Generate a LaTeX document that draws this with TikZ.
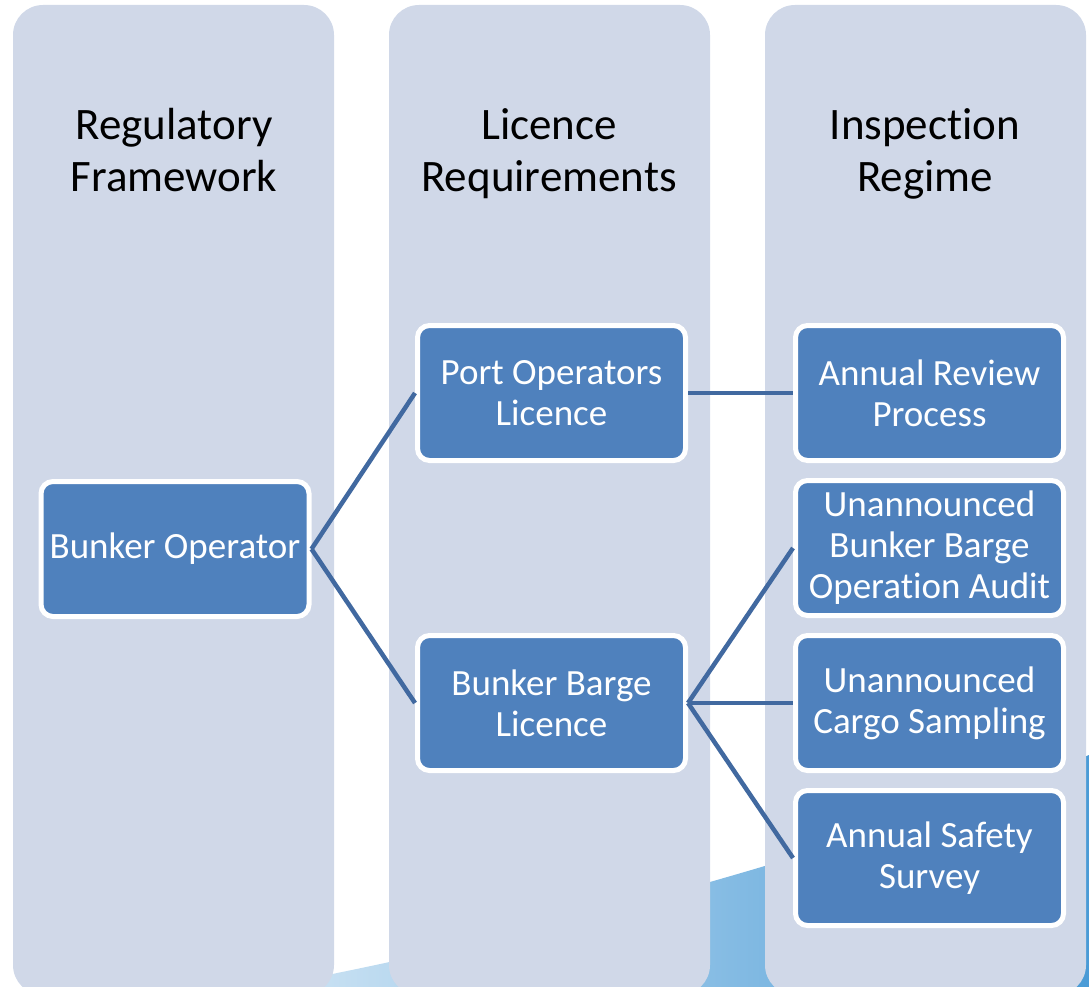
\documentclass[tikz,border=0pt]{standalone}
\usepackage{fontspec}
\setmainfont{Carlito}[Ligatures=NoCommon]
\usetikzlibrary{positioning}
\definecolor{laneGrey}{HTML}{D0D8E8}
\definecolor{boxBlue}{HTML}{4F81BD}
\definecolor{linkBlue}{HTML}{4169A0}
\definecolor{waveBlue}{HTML}{4A9BD6}
\tikzset{
        lane/.style={fill=laneGrey, rounded corners=30pt},
        lanetitle/.style={font=\fontsize{45}{52}\selectfont, align=center, inner sep=0pt, anchor=base},
        item/.style={
            fill=boxBlue, draw=white, line width=5pt, rounded corners=12pt,
            text=white, align=center, inner sep=0pt,
            minimum width=268pt, minimum height=135pt,
            font=\fontsize{37}{41}\selectfont
        },
        link/.style={draw=linkBlue, line width=4.5pt},
    }

\begin{document}
\begin{tikzpicture}[x = 1pt, y = -1pt]
                \useasboundingbox (0,0) rectangle (1089,987);
                \clip (0,0) rectangle (1089,987);
                % wave of the slide background
                \shade[left color=waveBlue!25, right color=waveBlue]
                    (250,990) .. controls (600,925) and (900,830) .. (1089,755) -- (1089,990) -- cycle;
                \foreach \x in {13,389,765}
                {
                    \path[lane] (\x,5) rectangle ++ (321,990);
                }
                \node[lanetitle] (regTitle) at (174,192) {Regulatory\\Framework};
                \node[lanetitle] (licTitle) at (549,192) {Licence\\Requirements};
                \node[lanetitle] (insTitle) at (925,192) {Inspection\\Regime};

                \node[item] (bunkerOp) at (175,549) {Bunker Operator};
                \node[item] (portLic) at (551.5,393) {Port Operators\\Licence};
                \node[item] (bargeLic) at (551.5,703) {Bunker Barge\\Licence};
                \node[item] (annualRev) at (929.5,393) {Annual Review\\Process};
                \node[item, below=15pt of annualRev] (bargeAudit) {Unannounced\\Bunker Barge\\Operation Audit};
                \node[item, below=15pt of bargeAudit] (cargoSample) {Unannounced\\Cargo Sampling};
                \node[item, below=15pt of cargoSample] (safetySurvey) {Annual Safety\\Survey};

                \foreach \a/\b in {bunkerOp/portLic, bunkerOp/bargeLic, portLic/annualRev,
                    bargeLic/bargeAudit, bargeLic/cargoSample, bargeLic/safetySurvey}
                    \draw[link] (\a.east) -- (\b.west);
            \end{tikzpicture}
\end{document}
